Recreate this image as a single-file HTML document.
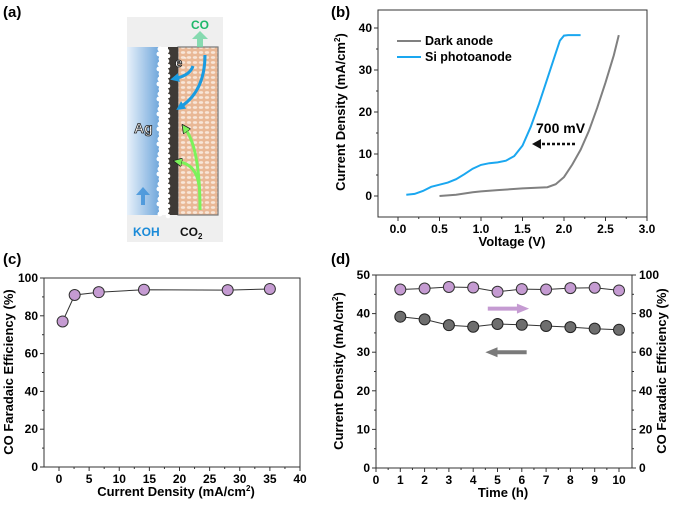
<!DOCTYPE html>
<html><head><meta charset="utf-8"><style>
body{margin:0;background:#fff}
svg{display:block;font-family:"Liberation Sans",Arial,sans-serif;font-weight:bold}
</style></head><body>
<svg id="fig" width="673" height="506" viewBox="0 0 673 506">
<defs>
<linearGradient id="kohg" x1="0" x2="1"><stop offset="0" stop-color="#e8f1fa"/><stop offset="1" stop-color="#5b9ad6"/></linearGradient>
<pattern id="hatch" width="6" height="5" patternUnits="userSpaceOnUse"><rect width="6" height="5" fill="#e9b896"/><ellipse cx="3" cy="2.5" rx="2.2" ry="1.4" fill="#f8e6d8"/></pattern>
<marker id="ab" markerUnits="userSpaceOnUse" markerWidth="9" markerHeight="9" refX="2" refY="4.5" orient="auto"><path d="M0,0L9,4.5L0,9z" fill="#1a9be0"/></marker>
<marker id="ag" markerUnits="userSpaceOnUse" markerWidth="9" markerHeight="9" refX="2" refY="4.5" orient="auto"><path d="M0,0L9,4.5L0,9z" fill="#7cf25a" stroke="#222" stroke-width="0.8"/></marker>
</defs>
<g>
<text x="3" y="17" font-size="15">(a)</text>
<rect x="127" y="17" width="96" height="225" fill="#efefef"/>
<rect x="127" y="47" width="38" height="168" fill="url(#kohg)"/>
<rect x="178" y="47" width="40" height="168" fill="url(#hatch)" stroke="#777" stroke-width="1.2"/>
<rect x="166" y="47" width="12" height="168" fill="#3e3a36"/>
<rect x="159" y="47" width="9" height="168" fill="#fff"/>
<g fill="#fff" id="bumps"></g>
<path d="M197,47 l0,-8 l-5,0 l8,-8 l8,8 l-5,0 l0,8z" fill="#6cd4a0" opacity="0.8"/>
<path d="M141,205 l0,-10 l-5,0 l7,-8 l7,8 l-5,0 l0,10z" fill="#3a8fd8" opacity="0.8"/>
<path d="M205,55 Q205,90 182,106" stroke="#1a9be0" stroke-width="3" fill="none" marker-end="url(#ab)"/>
<path d="M193,66 Q190,75 177,78" stroke="#1a9be0" stroke-width="3" fill="none" marker-end="url(#ab)"/>
<path d="M200,210 Q200,150 186,130" stroke="#7cf25a" stroke-width="3" fill="none" marker-end="url(#ag)"/>
<path d="M199,185 Q196,165 180,162" stroke="#7cf25a" stroke-width="3" fill="none" marker-end="url(#ag)"/>
<text x="175" y="67" font-size="13" fill="#fff" stroke="#222" stroke-width="0.8">e</text><text x="184" y="60" font-size="8" fill="#fff">-</text>
<text x="134" y="133" font-size="14" fill="#fff" stroke="#222" stroke-width="0.8">Ag</text>
<text x="191" y="29" font-size="12" fill="#1fb86a">CO</text>
<text x="133" y="236" font-size="12" fill="#1a8ad8">KOH</text>
<text x="180" y="236" font-size="12" fill="#111">CO<tspan font-size="8" dy="3">2</tspan></text>
</g>
<g id="pb"></g><g id="pc"></g><g id="pd"></g>
<text x="331" y="17" font-size="15">(b)</text>
<text x="3" y="264" font-size="15">(c)</text>
<text x="331" y="264" font-size="15">(d)</text>
</svg>
<script>
const siV=[0.1,0.2,0.3,0.4,0.5,0.6,0.7,0.8,0.9,1.0,1.1,1.2,1.3,1.4,1.5,1.6,1.7,1.8,1.9,1.95,2.0,2.05,2.2];
const siJ=[0.3,0.5,1.2,2.2,2.7,3.2,4.0,5.2,6.5,7.4,7.8,8.0,8.4,9.5,12,16.5,22,28,34,37,38.2,38.3,38.3];
const darkV=[0.5,0.7,0.9,1.0,1.2,1.5,1.8,1.9,2.0,2.1,2.2,2.3,2.4,2.5,2.6,2.66];
const darkJ=[0,0.3,0.9,1.1,1.4,1.8,2.1,2.8,4.5,7.5,11,15.5,21,27,33.5,38.3];
const bXTicks=[0.0,0.5,1.0,1.5,2.0,2.5,3.0];
const bYTicks=[0,10,20,30,40];
const cX=[0.6,2.6,6.6,14.1,28,35];
const cFE=[77,91,92.5,93.8,93.6,94.2];
const cXTicks=[0,5,10,15,20,25,30,35,40];
const cYTicks=[0,20,40,60,80,100];
const dT=[1,2,3,4,5,6,7,8,9,10];
const dJ=[39.2,38.5,37,36.6,37.3,37.1,36.8,36.5,36.1,35.8];
const dFE=[92.5,93,93.8,93.5,91.3,92.7,92.5,93.2,93.4,92];
const dXTicks=[0,1,2,3,4,5,6,7,8,9,10];
const dYTicks=[0,10,20,30,40,50];
const dY2Ticks=[0,20,40,60,80,100];

const NS='http://www.w3.org/2000/svg';
function mk(p,t,a,txt){const e=document.createElementNS(NS,t);for(const k in a)e.setAttribute(k,a[k]);if(txt!==undefined)e.textContent=txt;p.appendChild(e);return e;}
(function(){const b=document.getElementById('bumps');for(let y=49;y<215;y+=5){mk(b,'circle',{cx:159+(y%3),cy:y,r:2.5});mk(b,'circle',{cx:168-(y%2),cy:y+2,r:2.3});}})();
function lin(d0,d1,r0,r1){return v=>r0+(v-d0)/(d1-d0)*(r1-r0);}
function frame(g,L,R,T,B){const r=mk(g,'rect',{x:L,y:T,width:R-L,height:B-T,fill:'none',stroke:'#333','stroke-width':1});}
function xticks(g,ticks,X,B,fmt,minor){ticks.forEach((v,i)=>{mk(g,'line',{x1:X(v),x2:X(v),y1:B,y2:B+4,stroke:'#333'});const t=mk(g,'text',{x:X(v),y:B+16,'font-size':12,'text-anchor':'middle'},fmt(v));if(minor&&i<ticks.length-1){const m=(v+ticks[i+1])/2;mk(g,'line',{x1:X(m),x2:X(m),y1:B,y2:B+2,stroke:'#333'});}});}
function yticks(g,ticks,Y,L,fmt,side){ticks.forEach((v,i)=>{const d=side>0?4:-4;mk(g,'line',{x1:L,x2:L+d,y1:Y(v),y2:Y(v),stroke:'#333'});const t=mk(g,'text',{x:side>0?L+7:L-6,y:Y(v)+4,'font-size':12,'text-anchor':side>0?'start':'end'},fmt(v));if(i<ticks.length-1){const m=(v+ticks[i+1])/2;mk(g,'line',{x1:L,x2:L+d/2,y1:Y(m),y2:Y(m),stroke:'#333'});}});}
function ytitle(g,x,y,txt,sup){const t=mk(g,'text',{x:x,y:y,'font-size':13,'text-anchor':'middle',transform:`rotate(-90 ${x} ${y})`});t.textContent=txt;if(sup){mk(t,'tspan',{'font-size':8,dy:-5},'2');mk(t,'tspan',{'font-size':13,dy:5},')');}return t;}
function path(xs,ys,X,Y){return xs.map((v,i)=>(i?'L':'M')+X(v).toFixed(1)+','+Y(ys[i]).toFixed(1)).join('');}

(function(){const g=document.getElementById('pb');
const L=378,R=647,T=10,B=217;const X=lin(0,3,398,647),Y=lin(0,40,196,28);
frame(g,L,R,T,B);xticks(g,bXTicks,X,B,v=>v.toFixed(1),true);yticks(g,bYTicks,Y,L,v=>v,-1);
const xt=mk(g,'text',{x:512,y:246,'font-size':13,'text-anchor':'middle'},'Voltage (V)');
ytitle(g,345,112,'Current  Density (mA/cm',true);
const d=mk(g,'path',{d:path(darkV,darkJ,X,Y),fill:'none',stroke:'#808080','stroke-width':2});
const s=mk(g,'path',{d:path(siV,siJ,X,Y),fill:'none',stroke:'#1aa7f0','stroke-width':2});
mk(g,'line',{x1:397,x2:421,y1:41,y2:41,stroke:'#808080','stroke-width':2});
const l1=mk(g,'text',{x:425,y:45,'font-size':12.5},'Dark anode');
mk(g,'line',{x1:397,x2:421,y1:57,y2:57,stroke:'#1aa7f0','stroke-width':2});
const l2=mk(g,'text',{x:425,y:61,'font-size':12.5},'Si photoanode');
mk(g,'line',{x1:575,x2:540,y1:144,y2:144,stroke:'#111','stroke-width':2.5,'stroke-dasharray':'3,2'});
mk(g,'path',{d:'M532,144 L541,139 L541,149z',fill:'#111'});
const a=mk(g,'text',{x:536,y:133,'font-size':14},'700 mV');
})();

(function(){const g=document.getElementById('pc');
const L=44,R=300,T=278,B=467;const X=lin(0,40,59,300),Y=lin(0,100,467,278);
frame(g,L,R,T,B);xticks(g,cXTicks,X,B,v=>v,true);yticks(g,cYTicks,Y,L,v=>v,-1);
const xt=mk(g,'text',{x:176,y:496,'font-size':13,'text-anchor':'middle'},'Current Density (mA/cm');mk(xt,'tspan',{'font-size':8,dy:-5},'2');mk(xt,'tspan',{'font-size':13,dy:5},')');
ytitle(g,13,372,'CO Faradaic Efficiency (%)');
mk(g,'path',{d:path(cX,cFE,X,Y),fill:'none',stroke:'#333','stroke-width':1});
cX.forEach((v,i)=>{const c=mk(g,'circle',{cx:X(v),cy:Y(cFE[i]),r:5.5,fill:'#c59bd2',stroke:'#333','stroke-width':1});});
})();

(function(){const g=document.getElementById('pd');
const L=376,R=632,T=275,B=468;const X=lin(0,10,376,619),Y=lin(0,50,468,275),Y2=lin(0,100,468,275);
frame(g,L,R,T,B);xticks(g,dXTicks,X,B,v=>v,true);yticks(g,dYTicks,Y,L,v=>v,-1);yticks(g,dY2Ticks,Y2,R,v=>v,1);
const xt=mk(g,'text',{x:503,y:497,'font-size':13,'text-anchor':'middle'},'Time (h)');
ytitle(g,343,371,'Current  Density (mA/cm',true);
const t2=mk(g,'text',{x:666,y:371,'font-size':13,'text-anchor':'middle',transform:'rotate(-90 666 371)'},'CO Faradaic Efficiency (%)');
mk(g,'path',{d:path(dT,dJ,X,Y),fill:'none',stroke:'#333','stroke-width':1});
mk(g,'path',{d:path(dT,dFE,X,Y2),fill:'none',stroke:'#333','stroke-width':1});
dT.forEach((v,i)=>{const c=mk(g,'circle',{cx:X(v),cy:Y(dJ[i]),r:5.5,fill:'#6e6e6e',stroke:'#222','stroke-width':1});});
dT.forEach((v,i)=>{const c=mk(g,'circle',{cx:X(v),cy:Y2(dFE[i]),r:5.5,fill:'#c59bd2',stroke:'#333','stroke-width':1});});
mk(g,'line',{x1:X(4.6),x2:X(5.9),y1:Y(41.3),y2:Y(41.3),stroke:'#c59bd2','stroke-width':4});
mk(g,'path',{d:`M${X(6.3)},${Y(41.3)} L${X(5.8)},${Y(41.3)-5} L${X(5.8)},${Y(41.3)+5}z`,fill:'#c59bd2'});
mk(g,'line',{x1:X(6.2),x2:X(4.9),y1:Y(30),y2:Y(30),stroke:'#7a7a7a','stroke-width':4});
mk(g,'path',{d:`M${X(4.5)},${Y(30)} L${X(5.0)},${Y(30)-5} L${X(5.0)},${Y(30)+5}z`,fill:'#7a7a7a'});
})();
</script>
</body></html>
